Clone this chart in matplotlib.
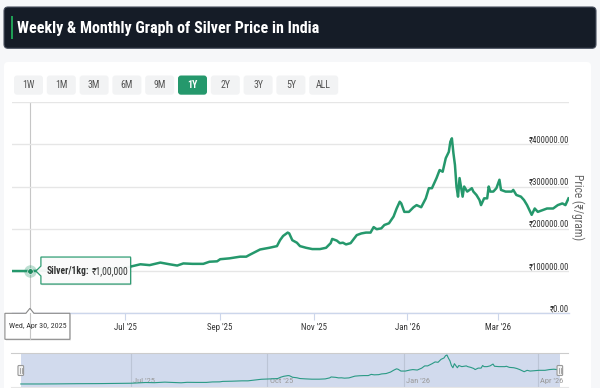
import matplotlib
matplotlib.use('Agg')
import matplotlib.pyplot as plt
import pandas as pd
from matplotlib import font_manager as fm
from matplotlib.patches import FancyBboxPatch, Polygon, Rectangle

# silver price, INR per kg
dates = ['2025-04-18', '2025-04-24', '2025-04-30', '2025-05-12', '2025-05-26', '2025-06-09',
         '2025-06-20', '2025-07-01', '2025-07-04', '2025-07-11', '2025-07-17', '2025-07-24',
         '2025-07-30', '2025-08-04', '2025-08-08', '2025-08-14', '2025-08-21', '2025-08-25',
         '2025-08-30', '2025-09-01', '2025-09-07', '2025-09-14', '2025-09-18', '2025-09-20',
         '2025-09-27', '2025-10-03', '2025-10-08', '2025-10-10', '2025-10-12', '2025-10-15',
         '2025-10-16', '2025-10-18', '2025-10-21', '2025-10-23', '2025-10-27', '2025-10-31',
         '2025-11-05', '2025-11-09', '2025-11-12', '2025-11-13', '2025-11-16', '2025-11-18',
         '2025-11-20', '2025-11-22', '2025-11-25', '2025-11-29', '2025-12-02', '2025-12-05',
         '2025-12-08', '2025-12-10', '2025-12-12', '2025-12-15', '2025-12-17', '2025-12-20',
         '2025-12-23', '2025-12-25', '2025-12-27', '2025-12-28', '2025-12-30', '2026-01-02',
         '2026-01-05', '2026-01-07', '2026-01-10', '2026-01-13', '2026-01-15', '2026-01-17',
         '2026-01-20', '2026-01-22', '2026-01-24', '2026-01-26', '2026-01-28', '2026-01-29',
         '2026-01-30', '2026-01-31', '2026-02-01', '2026-02-02', '2026-02-03', '2026-02-04',
         '2026-02-06', '2026-02-07', '2026-02-09', '2026-02-12', '2026-02-13', '2026-02-15',
         '2026-02-17', '2026-02-18', '2026-02-20', '2026-02-22', '2026-02-23', '2026-02-24',
         '2026-02-26', '2026-02-28', '2026-03-02', '2026-03-03', '2026-03-06', '2026-03-10',
         '2026-03-11', '2026-03-13', '2026-03-16', '2026-03-18', '2026-03-20', '2026-03-23',
         '2026-03-25', '2026-03-27', '2026-03-30', '2026-04-02', '2026-04-06', '2026-04-09',
         '2026-04-12', '2026-04-14', '2026-04-16']
prices = [100000, 100000, 100000, 101000, 103000, 104000,
          106000, 108000, 110000, 116000, 114000, 120000,
          116000, 113000, 118000, 117000, 117000, 122000,
          123000, 128000, 130000, 134000, 134000, 138000,
          151000, 155000, 159000, 173000, 183000, 191000,
          189000, 173000, 167000, 159000, 155000, 152000,
          152000, 155000, 166000, 176000, 172000, 166000,
          167000, 163000, 166000, 185000, 189000, 191000,
          191000, 204000, 199000, 201000, 209000, 213000,
          229000, 248000, 264000, 260000, 240000, 240000,
          251000, 256000, 251000, 272000, 296000, 296000,
          320000, 339000, 335000, 367000, 382000, 406000,
          414000, 379000, 351000, 300000, 276000, 320000,
          276000, 300000, 288000, 296000, 288000, 280000,
          268000, 256000, 272000, 272000, 300000, 288000,
          288000, 296000, 316000, 292000, 288000, 288000,
          292000, 280000, 276000, 268000, 256000, 233000,
          248000, 240000, 244000, 248000, 248000, 256000,
          260000, 256000, 272000]

range_buttons = ['1W', '1M', '3M', '6M', '9M', '1Y', '2Y', '3Y', '5Y', 'ALL']
active_button = '1Y'
view_start, view_end = '2025-04-18', '2026-04-16'
nav_start, nav_end = '2025-04-11 10:00', '2026-04-21 12:00'

x_ticks = ['2025-07-01', '2025-09-01', '2025-11-01', '2026-01-01', '2026-03-01']
x_tick_labels = ["Jul '25", "Sep '25", "Nov '25", "Jan '26", "Mar '26"]
y_ticks = [0, 100000, 200000, 300000, 400000]
y_top = 500000
nav_ticks = ['2025-07-01', '2025-10-01', '2026-01-01', '2026-04-01']
nav_tick_labels = ["Jul '25", "Oct '25", "Jan '26", "Apr '26"]

hover_date = '2025-04-30'
hover_price = 100000
hover_label = 'Wed, Apr 30, 2025'

GREEN = '#25986c'
W, H = 600, 388


def pick_font():
    # the screenshot text is squeezed sideways, so take a narrow face if there is one
    for fam, st in [('Liberation Sans Narrow', 'normal'), ('Roboto Condensed', 'normal'),
                    ('DejaVu Sans', 'condensed'), ('Noto Sans', 'condensed'),
                    ('Open Sans', 'condensed'), ('Roboto', 'condensed')]:
        try:
            path = fm.findfont(fm.FontProperties(family=fam, stretch=st), fallback_to_default=False)
        except ValueError:
            continue
        if 'narrow' in path.lower() or 'condensed' in path.lower():
            return fam, st
    return 'Roboto', 'normal'


fam, stretch = pick_font()
plt.rcParams['font.family'] = [fam, 'DejaVu Sans']
plt.rcParams['font.stretch'] = stretch

d = pd.to_datetime(dates)

fig = plt.figure(figsize=(W / 100, H / 100), dpi=100, facecolor='#f6f7f9')
renderer = fig.canvas.get_renderer()


def size_for(s, width, **kw):
    # font size that makes string s about `width` pixels wide
    t = fig.text(0, 0, s, size=10, **kw)
    w = t.get_window_extent(renderer).width
    t.remove()
    return 10 * width / w


fs_title = size_for('Weekly & Monthly Graph of Silver Price in India', 302, weight='bold')
fs_btn = size_for('3M', 12.5)
fs_y = size_for('₹400000.00', 40)
fs_x = size_for("Jul '25", 23)
fs_tip = size_for('Silver/1kg: ₹1,00,000', 79)
fs_flag = size_for(hover_label, 57)
fs_price = size_for('Price (₹/gram)', 66)
fs_nav = size_for("Jul '25", 22)

# page furniture in pixel coordinates
bg = fig.add_axes([0, 0, 1, 1], zorder=0)
bg.set_xlim(0, W)
bg.set_ylim(H, 0)
bg.axis('off')

bg.add_patch(FancyBboxPatch((4, 7), 592, 41.3, boxstyle='round,pad=0,rounding_size=4',
                            fc='#151c27', ec='#4a5160', lw=0.8))
bg.add_patch(Rectangle((11, 16), 1.8, 23.3, fc='#1f9d55', ec='none'))
bg.text(17.3, 28.2, 'Weekly & Monthly Graph of Silver Price in India', color='white',
        weight='bold', size=fs_title, va='center', ha='left')

bg.add_patch(FancyBboxPatch((4, 62), 587, 340, boxstyle='round,pad=0,rounding_size=4',
                            fc='white', ec='none'))

for i, lab in enumerate(range_buttons):
    x0 = 14 + 32.8 * i
    on = lab == active_button
    bg.add_patch(FancyBboxPatch((x0, 75.5), 29, 19.2, boxstyle='round,pad=0,rounding_size=3',
                                fc=GREEN if on else '#f2f3f4', ec='none'))
    bg.text(x0 + 14.5, 85.3, lab, ha='center', va='center', size=fs_btn,
            color='white' if on else '#555555', weight='bold' if on else 'normal')

bg.text(577.5, 207.5, 'Price (₹/gram)', rotation=270, ha='center', va='center',
        size=fs_price, color='#666666')

# main price chart
ax = fig.add_axes([11.5 / W, (H - 313.3) / H, 557 / W, 211.3 / H], zorder=2)
ax.set_facecolor('none')
ax.plot(d, prices, color=GREEN, lw=1.8, zorder=3, solid_joinstyle='round')
ax.set_xlim(pd.Timestamp(view_start), pd.Timestamp(view_end))
ax.set_ylim(0, y_top)
ax.set_yticks(y_ticks + [y_top])
ax.yaxis.grid(True, color='#e6e6e6', lw=1)
ax.tick_params(axis='y', length=0, labelleft=False)
ax.set_xticks(pd.to_datetime(x_ticks))
ax.set_xticklabels(x_tick_labels)
ax.tick_params(axis='x', length=4.7, width=0.8, color='#ccd6eb', pad=2.3,
               labelsize=fs_x, labelcolor='#333333')
for s in ['top', 'left', 'right']:
    ax.spines[s].set_visible(False)
ax.spines['bottom'].set_color('#ccd6eb')
ax.spines['bottom'].set_linewidth(1)
for v in y_ticks:
    ax.annotate(f'₹{v:.2f}', xy=(1, v), xycoords=('axes fraction', 'data'),
                xytext=(0.3, 1.2), textcoords='offset points', ha='right', va='baseline',
                size=fs_y, color='#333333')

# hover state
hd = pd.Timestamp(hover_date)
ax.axvline(hd, color='#c6c6c6', lw=0.8, zorder=1)
ax.plot([hd], [hover_price], 'o', ms=9.0, color=GREEN, alpha=0.3, mec='none', zorder=4)
ax.plot([hd], [hover_price], 'o', ms=4.0, color='#1f8a5e', mec='white', mew=0.4, zorder=5)

# navigator
nav = fig.add_axes([11 / W, (H - 387.3) / H, 557 / W, 34.6 / H], zorder=2)
nav.set_facecolor('white')
nav.set_xlim(pd.Timestamp(nav_start), pd.Timestamp(nav_end))
nav.set_ylim(64000, 439000)
nav.axvspan(pd.Timestamp(view_start), pd.Timestamp(view_end), color='#d1daed', lw=0, zorder=0)
for t, lab in zip(pd.to_datetime(nav_ticks), nav_tick_labels):
    nav.axvline(t, color='#bcc5d6', lw=0.8, zorder=1)
    nav.annotate(lab, xy=(t, 0), xycoords=('data', 'axes fraction'), xytext=(1.6, 4.2),
                 textcoords='offset points', ha='left', va='center', size=fs_nav,
                 color='#999999', zorder=2)
nav.plot(d, prices, color='#2a9a85', lw=0.8, zorder=3)
nav.set_xticks([])
nav.set_yticks([])
for s in ['left', 'right']:
    nav.spines[s].set_visible(False)
nav.spines['top'].set_color('#cccccc')
nav.spines['bottom'].set_color('#e6e6e6')

# overlay for tooltip, date flag and navigator handles
ov = fig.add_axes([0, 0, 1, 1], zorder=5)
ov.set_xlim(0, W)
ov.set_ylim(H, 0)
ov.axis('off')


def to_px(axes, x, y):
    px, py = axes.transData.transform((axes.convert_xunits(x), y))
    return px, H - py


hx, hy = to_px(ax, hd, hover_price)

tip = [(hx + 11, hy - 14), (hx + 100.7, hy - 14), (hx + 100.7, hy + 13), (hx + 11, hy + 13),
       (hx + 11, hy + 5), (hx + 6, hy), (hx + 11, hy - 5)]
ov.add_patch(Polygon([(x + 1, y + 1.2) for x, y in tip], closed=True, fc='#000000',
                     alpha=0.12, ec='none'))
ov.add_patch(Polygon(tip, closed=True, fc='#fcfcfc', alpha=0.95, ec=GREEN, lw=0.9))
t1 = ov.text(hx + 16.5, hy, 'Silver/1kg:', weight='bold', size=fs_tip, color='#333333',
             va='center', ha='left')
tx = t1.get_window_extent(renderer).x1
ov.annotate('₹1,00,000', xy=(tx, H - hy), xycoords='figure pixels', xytext=(2.2, 0),
            textcoords='offset points', size=fs_tip, color='#333333', va='center', ha='left')

bx, by = to_px(ax, hd, 0)
flag = [(bx - 25, by), (bx - 4, by), (bx, by - 5), (bx + 4, by), (bx + 40, by),
        (bx + 40, by + 26), (bx - 25, by + 26)]
ov.add_patch(Polygon([(x + 1, y + 1.2) for x, y in flag], closed=True, fc='#000000',
                     alpha=0.12, ec='none'))
ov.add_patch(Polygon(flag, closed=True, fc='white', ec='#8a8a8a', lw=0.8))
ov.text(bx + 7.5, by + 13, hover_label, ha='center', va='center', size=fs_flag,
        color='#333333')
ov.plot([bx, bx], [by, by + 26], color='#c6c6c6', lw=0.8)

for t in [view_start, view_end]:
    nx, ny = to_px(nav, pd.Timestamp(t), 0)
    cy = H - 17.5
    ov.add_patch(FancyBboxPatch((nx - 2.8, cy - 5), 5.6, 10, boxstyle='round,pad=0,rounding_size=1',
                                fc='#f2f2f2', ec='#999999', lw=0.8))
    ov.plot([nx - 0.8, nx - 0.8], [cy - 2.5, cy + 2.5], color='#999999', lw=0.6)
    ov.plot([nx + 0.8, nx + 0.8], [cy - 2.5, cy + 2.5], color='#999999', lw=0.6)

fig.savefig('out.png', dpi=100, facecolor=fig.get_facecolor())
